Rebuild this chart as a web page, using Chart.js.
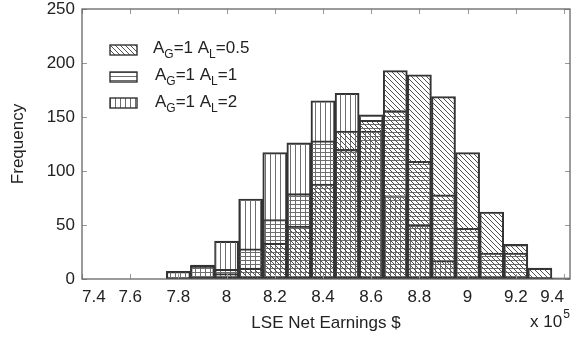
<!DOCTYPE html>
<html>
<head>
<meta charset="utf-8">
<script src="https://cdn.jsdelivr.net/npm/chart.js@4.4.1/dist/chart.umd.min.js"></script>
<style>
  html, body { margin: 0; padding: 0; background: #fff; }
  #wrap { width: 571px; height: 337px; }
</style>
</head>
<body>
<div id="wrap"><canvas id="c" width="571" height="337"></canvas></div>
<script>
// ---- data ----
const bins = [7.8, 7.9, 8.0, 8.1, 8.2, 8.3, 8.4, 8.5, 8.6, 8.7, 8.8, 8.9, 9.0, 9.1, 9.2, 9.3, 9.4];
const freqAL05 = [0, 0, 5, 10, 33, 49, 88, 137, 147, 193, 189, 169, 117, 62, 32, 10, 1];
const freqAL1  = [0, 12, 9, 28, 55, 79, 128, 120, 152, 156, 109, 78, 47, 24, 24, 0, 0];
const freqAL2  = [7, 13, 35, 74, 117, 126, 165, 172, 137, 77, 50, 17, 2, 0, 0, 0, 0];
const seriesLabels = ['A_G=1 A_L=0.5', 'A_G=1 A_L=1', 'A_G=1 A_L=2'];
const xTickValues = [7.4, 7.6, 7.8, 8.0, 8.2, 8.4, 8.6, 8.8, 9.0, 9.2, 9.4];
const yTickValues = [0, 50, 100, 150, 200, 250];
const xTitle = 'LSE Net Earnings $';
const yTitle = 'Frequency';
const xMultiplier = ['x 10', '5'];

// ---- hatch patterns ----
function makePattern(type) {
  const c = document.createElement('canvas');
  const g = c.getContext('2d');
  if (type === 'diag') {
    c.width = 5; c.height = 5;
    g.strokeStyle = '#505050'; g.lineWidth = 1;
    g.beginPath();
    g.moveTo(-1, -1); g.lineTo(6, 6);
    g.moveTo(-1, 4); g.lineTo(1, 6);
    g.moveTo(4, -1); g.lineTo(6, 1);
    g.stroke();
  } else if (type === 'horiz') {
    c.width = 4; c.height = 4;
    g.fillStyle = '#6e6e6e';
    g.fillRect(0, 0, 4, 1);
  } else {
    c.width = 5; c.height = 5;
    g.fillStyle = '#6e6e6e';
    g.fillRect(0, 0, 1, 5);
  }
  return g.createPattern(c, 'repeat');
}
const patterns = [makePattern('diag'), makePattern('horiz'), makePattern('vert')];
const seriesValues = [freqAL05, freqAL1, freqAL2];

const FONT = '"Liberation Sans", Arial, Helvetica, sans-serif';
const TEXT = '#222';

function drawSubText(ctx, str, x, y, size) {
  const parts = str.split(/_(\w)/);
  let cx = x;
  parts.forEach((p, i) => {
    const sub = i % 2 === 1;
    ctx.font = (sub ? Math.round(size * 0.7) : size) + 'px ' + FONT;
    ctx.fillText(p, cx, sub ? y + 5 : y);
    cx += ctx.measureText(p).width;
  });
}

const decor = {
  id: 'decor',
  afterDatasetsDraw(chart) {
    const { ctx, chartArea: a, scales: { x, y } } = chart;
    ctx.save();
    // inward tick marks
    ctx.strokeStyle = '#999';
    ctx.lineWidth = 1;
    ctx.beginPath();
    x.ticks.forEach(t => {
      const px = Math.round(x.getPixelForValue(t.value)) + 0.5;
      ctx.moveTo(px, a.bottom); ctx.lineTo(px, a.bottom - 5);
      ctx.moveTo(px, a.top); ctx.lineTo(px, a.top + 5);
    });
    y.ticks.forEach(t => {
      const py = Math.round(y.getPixelForValue(t.value)) + 0.5;
      ctx.moveTo(a.left, py); ctx.lineTo(a.left + 5, py);
      ctx.moveTo(a.right, py); ctx.lineTo(a.right - 5, py);
    });
    ctx.stroke();
    // frame
    ctx.strokeStyle = '#666';
    ctx.lineWidth = 1.3;
    ctx.strokeRect(a.left, a.top, a.right - a.left, a.bottom - a.top);

    // legend
    const rows = [{ sy: 45, ty: 53, tx: 153 }, { sy: 72, ty: 80, tx: 155 }, { sy: 98, ty: 107, tx: 155 }];
    ctx.textBaseline = 'alphabetic';
    ctx.textAlign = 'left';
    chart.data.datasets.forEach((ds, i) => {
      const r = rows[i];
      ctx.fillStyle = '#fff';
      ctx.fillRect(110, r.sy, 27, 10);
      ctx.fillStyle = patterns[i];
      ctx.fillRect(110, r.sy, 27, 10);
      ctx.strokeStyle = '#333';
      ctx.lineWidth = 1.4;
      ctx.strokeRect(110, r.sy, 27, 10);
      ctx.fillStyle = TEXT;
      drawSubText(ctx, ds.label, r.tx, r.ty, 17);
    });

    // x 10^5 multiplier
    ctx.fillStyle = TEXT;
    ctx.font = '17px ' + FONT;
    ctx.fillText(xMultiplier[0], 530, 327);
    const w = ctx.measureText(xMultiplier[0]).width;
    ctx.font = '12px ' + FONT;
    ctx.fillText(xMultiplier[1], 530 + w + 1, 318);
    ctx.restore();
  }
};

const datasets = seriesValues.map((vals, i) => ({
  label: seriesLabels[i],
  data: bins.map((b, k) => ({ x: b, y: vals[k] })),
  backgroundColor: patterns[i],
  borderColor: '#333',
  borderWidth: ctx => (ctx.raw && ctx.raw.y > 0 ? 1.4 : 0),
  borderSkipped: false,
  barPercentage: 1,
  categoryPercentage: 1,
  grouped: false
}));

new Chart(document.getElementById('c'), {
  type: 'bar',
  data: { datasets },
  plugins: [decor],
  options: {
    responsive: false,
    devicePixelRatio: 1,
    animation: false,
    layout: { padding: { top: 9, right: 1, left: 0, bottom: 0 } },
    plugins: { legend: { display: false }, tooltip: { enabled: false } },
    scales: {
      x: {
        type: 'linear',
        min: 7.4,
        max: 9.425,
        offset: false,
        grid: { display: false, drawTicks: false },
        border: { display: false },
        afterBuildTicks: s => { s.ticks = xTickValues.map(v => ({ value: v })); },
        afterFit: s => { s.height = 58; s.paddingLeft = 0; s.paddingRight = 0; },
        ticks: {
          autoSkip: false,
          maxRotation: 0,
          align: 'inner',
          padding: 8,
          color: TEXT,
          font: { family: FONT, size: 17 },
          callback: v => String(Math.round(v * 10) / 10)
        },
        title: {
          display: true, text: xTitle, color: TEXT,
          font: { family: FONT, size: 17 },
          padding: { top: 0, bottom: 3 }
        }
      },
      y: {
        min: 0,
        max: 250,
        grid: { display: false, drawTicks: false },
        border: { display: false },
        afterBuildTicks: s => { s.ticks = yTickValues.map(v => ({ value: v })); },
        afterFit: s => { s.width = 82; s.paddingTop = 0; s.paddingBottom = 0; },
        ticks: {
          padding: 7,
          color: TEXT,
          font: { family: FONT, size: 17 }
        },
        title: {
          display: true, text: yTitle, color: TEXT,
          font: { family: FONT, size: 17 },
          padding: { top: 8, bottom: 0 }
        }
      }
    }
  }
});
</script>
</body>
</html>
